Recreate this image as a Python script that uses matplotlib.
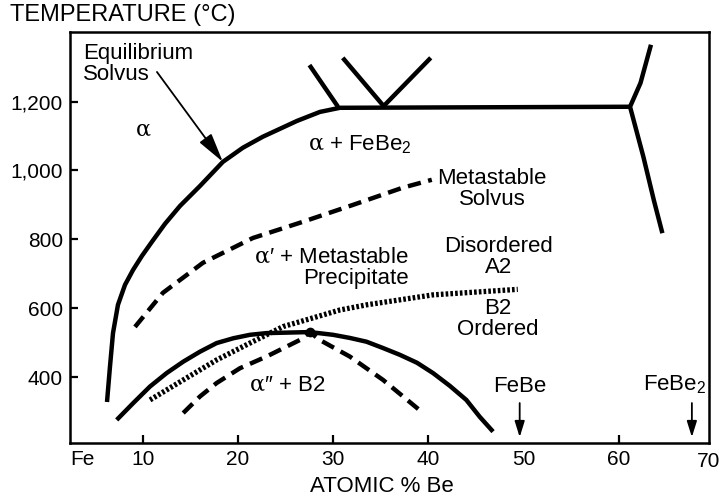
import matplotlib
matplotlib.use("Agg")
import matplotlib.pyplot as plt

plt.rcParams['font.family'] = ['Liberation Sans', 'DejaVu Sans']
plt.rcParams['mathtext.fontset'] = 'custom'
plt.rcParams['mathtext.rm'] = 'Liberation Sans'
plt.rcParams['mathtext.it'] = 'DejaVu Serif'
plt.rcParams['mathtext.bf'] = 'Liberation Sans:bold'

# Fe-Be phase diagram (x = atomic % Be, y = deg C)

# equilibrium solvus + horizontal line at the top
eq_x = [6.22, 6.53, 6.85, 7.37, 8.11, 8.95, 9.89, 10.94, 12.31, 13.89, 15.99,
        18.4, 20.5, 22.6, 24.4, 26.2, 28.6, 30.7, 61.2]
eq_y = [328, 430, 528, 610, 668, 711, 752, 793, 845, 897, 955,
        1025, 1066, 1098, 1121, 1144, 1170, 1182, 1185]

# right-hand phase boundary (FeBe2 side)
right_x = [63.4, 62.3, 61.2, 62.6, 63.7, 64.6]
right_y = [1365, 1254, 1185, 1040, 914, 818]

# short lines above the horizontal
stub1_x = [27.5, 30.5]
stub1_y = [1306, 1185]
stub2_x = [31.0, 35.3, 40.25]
stub2_y = [1327, 1187, 1327]

# metastable solvus (dashed)
meta_x = [9.16, 12.1, 16.3, 21.55, 26.8, 32.06, 37.3, 40.36]
meta_y = [546, 645, 732, 804, 851, 900, 950, 973]

# ordering boundary (solid dome)
dome_x = [7.24, 8.98, 10.74, 12.49, 14.23, 15.99, 17.74, 19.49, 21.24, 22.99,
          27.54, 29.99, 31.74, 33.5, 35.2, 37.0, 38.8, 40.49, 42.25, 43.99, 45.4, 46.8]
dome_y = [276, 325, 373, 412, 445, 474, 499, 513, 523, 528,
          531, 523, 514, 503, 485, 465, 442, 412, 375, 334, 285, 242]

# inner dashed dome
inner_x = [14.23, 15.99, 17.74, 20.19, 22.99, 26.49, 27.54, 28.59, 31.74, 35.24, 39.27]
inner_y = [296, 344, 383, 426, 460, 508, 531, 508, 460, 392, 300]

# A2 / B2 order-disorder line (dotted)
order_x = [10.74, 14.23, 17.74, 21.24, 24.74, 26.49, 30.69, 33.5, 40.49, 49.4]
order_y = [334, 392, 450, 499, 547, 561, 595, 610, 639, 655]

peak_x = [27.6]
peak_y = [531]

compound_x = [49.6, 67.7]

xtick_pos = [3.6, 10, 20, 30, 40, 50, 60]
xtick_labels = ['Fe', '10', '20', '30', '40', '50', '60']
ytick_pos = [400, 600, 800, 1000, 1200]
ytick_labels = ['400', '600', '800', '1,000', '1,200']

fig = plt.figure(figsize=(7.22, 5.0), dpi=100)
ax = fig.add_axes([70 / 722, 57 / 500, 639 / 722, 411 / 500])
ax.set_xlim(2.33, 69.5)
ax.set_ylim(209, 1402)

lw = 3.2
solid = dict(color='k', lw=lw, solid_capstyle='butt', solid_joinstyle='round')
ax.plot(eq_x, eq_y, **solid)
ax.plot(right_x, right_y, **solid)
ax.plot(stub1_x, stub1_y, **solid)
ax.plot(stub2_x, stub2_y, **solid)
ax.plot(dome_x, dome_y, **solid)
ax.plot(meta_x, meta_y, color='k', lw=lw, linestyle=(0, (3.0, 1.7)), dash_capstyle='butt')
ax.plot(inner_x, inner_y, color='k', lw=lw, linestyle=(0, (3.0, 1.7)), dash_capstyle='butt')
ax.plot(order_x, order_y, color='k', lw=3.8, linestyle=(0, (0.5, 0.4)), dash_capstyle='butt')
ax.plot(peak_x, peak_y, 'o', color='k', ms=6)

# arrows
ax.annotate('', xy=(18.4, 1025), xytext=(11.47, 1286),
            arrowprops=dict(arrowstyle='-|>,head_length=1.2,head_width=0.3',
                            mutation_scale=15, lw=1.3, color='k',
                            shrinkA=0, shrinkB=0))
for cx in compound_x:
    ax.annotate('', xy=(cx, 226), xytext=(cx, 325),
                arrowprops=dict(arrowstyle='-|>,head_length=0.8,head_width=0.25',
                                mutation_scale=12, lw=1.3, color='k',
                                shrinkA=0, shrinkB=0))

fs = 16
ax.text(3.7, 1309, 'Equilibrium\nSolvus', ha='left', va='center', fontsize=fs, linespacing=1.0)
ax.text(10.0, 1118, r'$\alpha$', ha='center', va='center', fontsize=fs)
ax.text(32.8, 1074, r'$\alpha$ + FeBe$_2$', ha='center', va='center', fontsize=fs)
ax.text(46.7, 946, 'Metastable\nSolvus', ha='center', va='center', fontsize=fs, linespacing=1.0)
ax.text(37.9, 717, "$\\alpha$\u2032 + Metastable\nPrecipitate", ha='right', va='center',
        multialignment='right', fontsize=fs, linespacing=1.0)
ax.text(47.4, 749, 'Disordered\nA2', ha='center', va='center', fontsize=fs, linespacing=1.0)
ax.text(47.3, 569, 'B2\nOrdered', ha='center', va='center', fontsize=fs, linespacing=1.0)
ax.text(25.2, 377, "$\\alpha$\u2033 + B2", ha='center', va='center', fontsize=fs)
ax.text(49.6, 372, 'FeBe', ha='center', va='center', fontsize=fs)
ax.text(65.9, 378, r'FeBe$_2$', ha='center', va='center', fontsize=fs)

for s in ax.spines.values():
    s.set_linewidth(1.8)

ax.set_xticks(xtick_pos)
ax.set_xticklabels(xtick_labels)
ax.set_yticks(ytick_pos)
ax.set_yticklabels(ytick_labels)
ax.tick_params(direction='in', length=6, width=1.6, labelsize=15)
ax.tick_params(axis='x', pad=5)
ax.tick_params(axis='y', pad=5)
ticks = ax.xaxis.get_major_ticks()
ticks[0].tick1line.set_visible(False)
ticks[5].tick1line.set_visible(False)
ax.text(1 + 11 / 639, -0.046, '70', transform=ax.transAxes, ha='right', va='center',
        fontsize=15, clip_on=False)

fig.text(10 / 722, 1 - 15 / 500, 'TEMPERATURE (°C)', ha='left', va='center', fontsize=17)
fig.text(382 / 722, 1 - 487 / 500, 'ATOMIC % Be', ha='center', va='center', fontsize=16)

fig.savefig('out.png', dpi=100)
